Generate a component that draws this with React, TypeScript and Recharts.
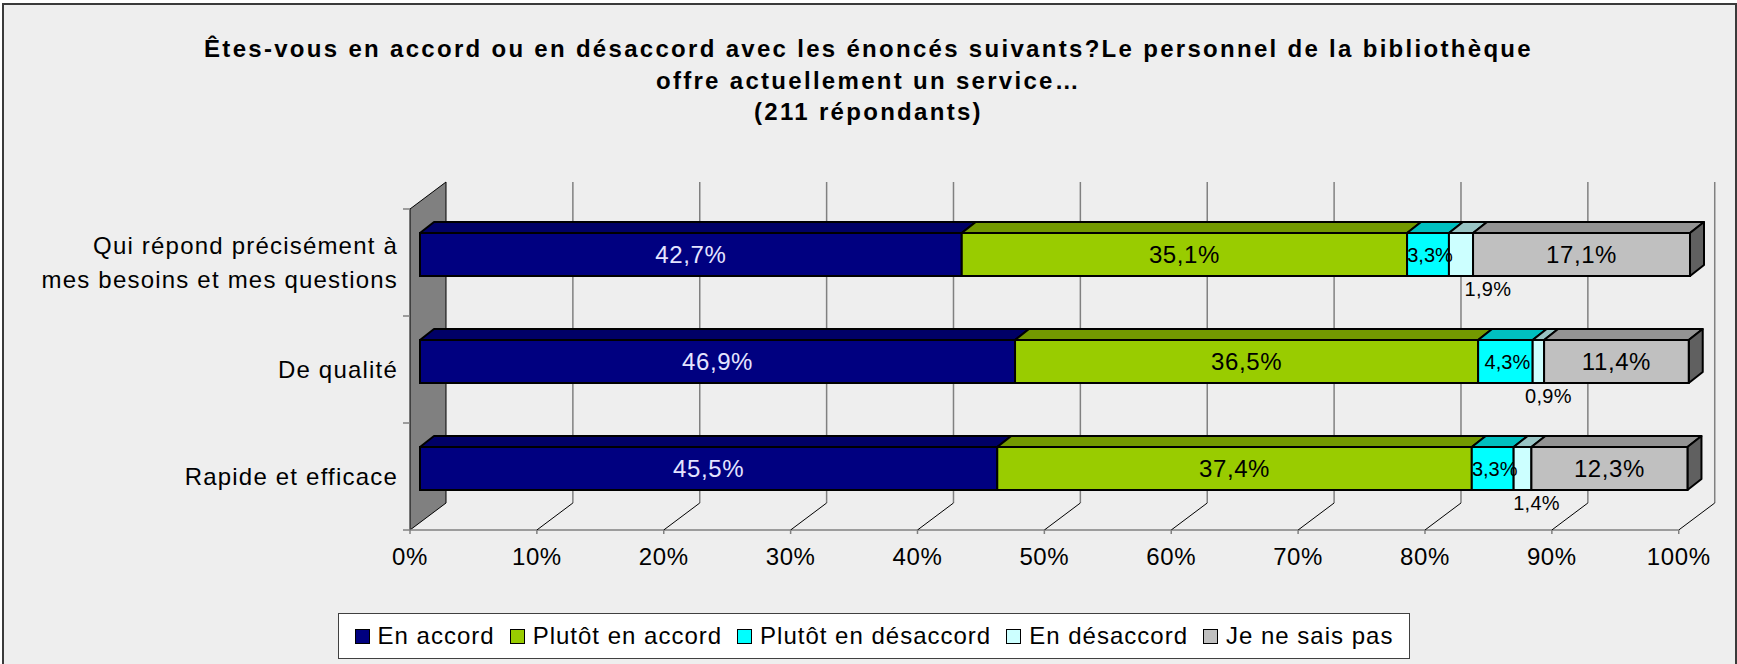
import React from 'react';
import { BarChart, Bar, XAxis, YAxis, ReferenceLine, ReferenceArea, LabelList, Legend } from 'recharts';

// categories (first label breaks on two lines)
const categories = ['Qui répond précisément à\nmes besoins et mes questions', 'De qualité', 'Rapide et efficace'];

// series values, in %
const enAccord = [42.7, 46.9, 45.5];
const plutotEnAccord = [35.1, 36.5, 37.4];
const plutotEnDesaccord = [3.3, 4.3, 3.3];
const enDesaccord = [1.9, 0.9, 1.4];
const neSaisPas = [17.1, 11.4, 12.3];

const xTicks = [0, 10, 20, 30, 40, 50, 60, 70, 80, 90, 100];

const FONT = '"Liberation Sans", Arial, sans-serif';

// fake 3D offsets, relative to the bars' front plane
const BAR_DX = 14;
const BAR_DY = 11;
const FRONT = { dx: -10, dy: 8 };
const BACK = { dx: 26, dy: -19 };

// small labels of "En désaccord" sit under the bar, pushed right a bit
const belowShift = [27, 10, 14];

const data = categories.map((name, i) => ({
  name,
  enAccord: enAccord[i],
  plutotEnAccord: plutotEnAccord[i],
  plutotEnDesaccord: plutotEnDesaccord[i],
  enDesaccord: enDesaccord[i],
  neSaisPas: neSaisPas[i],
}));

const fmt = (v: number) => v.toFixed(1).replace('.', ',') + '%';

const make3DBar = (top: string, side?: string) => (props: any) => {
  const { x, y, width, height, fill } = props;
  if (!width || width <= 0) return <g />;
  return (
    <g>
      <polygon
        points={`${x},${y} ${x + BAR_DX},${y - BAR_DY} ${x + width + BAR_DX},${y - BAR_DY} ${x + width},${y}`}
        fill={top}
        stroke="#000"
        strokeWidth={2}
        strokeLinejoin="round"
      />
      {side && (
        <polygon
          points={`${x + width},${y} ${x + width + BAR_DX},${y - BAR_DY} ${x + width + BAR_DX},${y + height - BAR_DY} ${x + width},${y + height}`}
          fill={side}
          stroke="#000"
          strokeWidth={2}
          strokeLinejoin="round"
        />
      )}
      <rect x={x} y={y} width={width} height={height} fill={fill} stroke="#000" strokeWidth={2} />
    </g>
  );
};

const makeLabel = (color: string, size: number, below = false, dx = 0, ls = 0.6) => (p: any) => {
  const vb = p.viewBox && p.viewBox.width != null ? p.viewBox : p;
  const { x, y, width, height } = vb;
  const v = Number(p.value);
  if (!isFinite(v)) return null;
  const cx = x + width / 2 + dx + (below ? belowShift[p.index] ?? 0 : 0);
  const ty = below ? y + height + 20 : y + height / 2 + size * 0.36;
  return (
    <text x={cx} y={ty} textAnchor="middle" fill={color} fontSize={size} fontFamily={FONT} letterSpacing={ls}>
      {fmt(v)}
    </text>
  );
};

const series = [
  { key: 'enAccord', name: 'En accord', front: '#000080', top: '#000066', label: makeLabel('#E4E4FF', 24) },
  { key: 'plutotEnAccord', name: 'Plutôt en accord', front: '#99CC00', top: '#739900', label: makeLabel('#000', 24) },
  { key: 'plutotEnDesaccord', name: 'Plutôt en désaccord', front: '#00FFFF', top: '#00C0C0', label: makeLabel('#000', 20, false, 2, 0) },
  { key: 'enDesaccord', name: 'En désaccord', front: '#CCFFFF', top: '#99C4C4', label: makeLabel('#000', 20, true, 0, 0.3) },
  { key: 'neSaisPas', name: 'Je ne sais pas', front: '#C0C0C0', top: '#939393', side: '#606060', label: makeLabel('#000', 24) },
];

const WallShape = (p: any) => {
  const { x, y, width, height } = p;
  const fx = x + FRONT.dx;
  const fyT = y + FRONT.dy;
  const fyB = y + height + FRONT.dy;
  const bx = x + BACK.dx;
  const byT = y + BACK.dy;
  const byB = y + height + BACK.dy;
  const n = categories.length;
  return (
    <g>
      <polygon points={`${fx},${fyT} ${bx},${byT} ${bx},${byB} ${fx},${fyB}`} fill="#808080" stroke="#000" strokeWidth={1} />
      <line x1={fx} y1={fyB} x2={x + width + FRONT.dx} y2={fyB} stroke="#808080" strokeWidth={1.5} />
      {Array.from({ length: n + 1 }, (_, k) => {
        const ty = fyT + ((fyB - fyT) * k) / n;
        return <line key={k} x1={fx - 7} y1={ty} x2={fx} y2={ty} stroke="#808080" strokeWidth={1.5} />;
      })}
    </g>
  );
};

const GridShape = (p: any) => {
  const x = p.x1;
  const yTop = Math.min(p.y1, p.y2);
  const yBot = Math.max(p.y1, p.y2);
  return (
    <g>
      <line x1={x + BACK.dx} y1={yTop + BACK.dy} x2={x + BACK.dx} y2={yBot + BACK.dy} stroke="#808080" strokeWidth={1.5} />
      <line x1={x + BACK.dx} y1={yBot + BACK.dy} x2={x + FRONT.dx} y2={yBot + FRONT.dy} stroke="#000" strokeWidth={1} />
    </g>
  );
};

const XTick = (p: any) => {
  const { x, y, payload } = p;
  const fx = x + FRONT.dx;
  return (
    <g>
      <line x1={fx} y1={y} x2={fx} y2={y + 4} stroke="#808080" strokeWidth={1.5} />
      <text x={fx} y={y + 35} textAnchor="middle" fill="#000" fontSize={24} fontFamily={FONT} letterSpacing={0.6}>
        {payload.value}%
      </text>
    </g>
  );
};

const YTick = (p: any) => {
  const { x, y, payload } = p;
  const lines = String(payload.value).split('\n');
  const lh = 34;
  const base = y + FRONT.dy + 8.5 - ((lines.length - 1) * lh) / 2;
  return (
    <text textAnchor="end" fill="#000" fontSize={24} fontFamily={FONT} letterSpacing={1.2}>
      {lines.map((l, i) => (
        <tspan key={i} x={x - 14} y={base + i * lh}>
          {l}
        </tspan>
      ))}
    </text>
  );
};

// legend keeps the series order
const LegendContent = () => (
  <div
    style={{
      display: 'flex',
      justifyContent: 'center',
      alignItems: 'center',
      height: 44,
      background: '#fff',
      border: '1px solid #404040',
      fontFamily: FONT,
      fontSize: 24,
      letterSpacing: 1,
      color: '#000',
    }}
  >
    {series.map((s, i) => (
      <div key={s.key} style={{ display: 'flex', alignItems: 'center', marginLeft: i === 0 ? 0 : 15 }}>
        <span style={{ width: 13, height: 13, background: s.front, border: '1.5px solid #000', marginRight: 8, display: 'inline-block' }} />
        <span>{s.name}</span>
      </div>
    ))}
  </div>
);

export default function App() {
  return (
    <div style={{ position: 'absolute', left: 0, top: 0, width: 1737, height: 664, overflow: 'hidden', background: '#fff' }}>
      <div
        style={{
          position: 'absolute',
          left: 2,
          top: 3,
          width: 1731,
          height: 720,
          background: '#EEEEEE',
          border: '2px solid #3a3a3a',
        }}
      />
      <div
        style={{
          position: 'absolute',
          left: 0,
          top: 33,
          width: 1737,
          textAlign: 'center',
          fontFamily: FONT,
          fontWeight: 'bold',
          fontSize: 24,
          lineHeight: '31.5px',
          letterSpacing: 2.3,
          color: '#000',
        }}
      >
        <div>Êtes-vous en accord ou en désaccord avec les énoncés suivants?Le personnel de la bibliothèque</div>
        <div>offre actuellement un service…</div>
        <div>(211 répondants)</div>
      </div>
      <div style={{ position: 'absolute', left: 0, top: 0 }}>
        <BarChart
          width={1737}
          height={664}
          data={data}
          layout="vertical"
          margin={{ top: 201, right: 47, bottom: 112, left: 0 }}
          barSize={43}
        >
          <ReferenceArea x1={0} x2={100} ifOverflow="visible" shape={WallShape} zIndex={-60} />
          {xTicks.slice(1).map((v) => (
            <ReferenceLine key={v} x={v} ifOverflow="visible" shape={GridShape} zIndex={-50} />
          ))}
          <XAxis
            type="number"
            domain={() => [0, 100]}
            ticks={xTicks}
            interval={0}
            axisLine={false}
            tickLine={false}
            tick={XTick}
            height={30}
          />
          <YAxis type="category" dataKey="name" width={420} axisLine={false} tickLine={false} tick={YTick} interval={0} />
          <Legend
            layout="horizontal"
            verticalAlign="middle"
            align="center"
            content={LegendContent}
            wrapperStyle={{ position: 'absolute', left: 338, top: 613, width: 1072, height: 46 }}
          />
          {series.map((s) => (
            <Bar
              key={s.key}
              dataKey={s.key}
              name={s.name}
              stackId="a"
              fill={s.front}
              isAnimationActive={false}
              shape={make3DBar(s.top, s.side)}
            >
              <LabelList dataKey={s.key} content={s.label} />
            </Bar>
          ))}
        </BarChart>
      </div>
    </div>
  );
}
